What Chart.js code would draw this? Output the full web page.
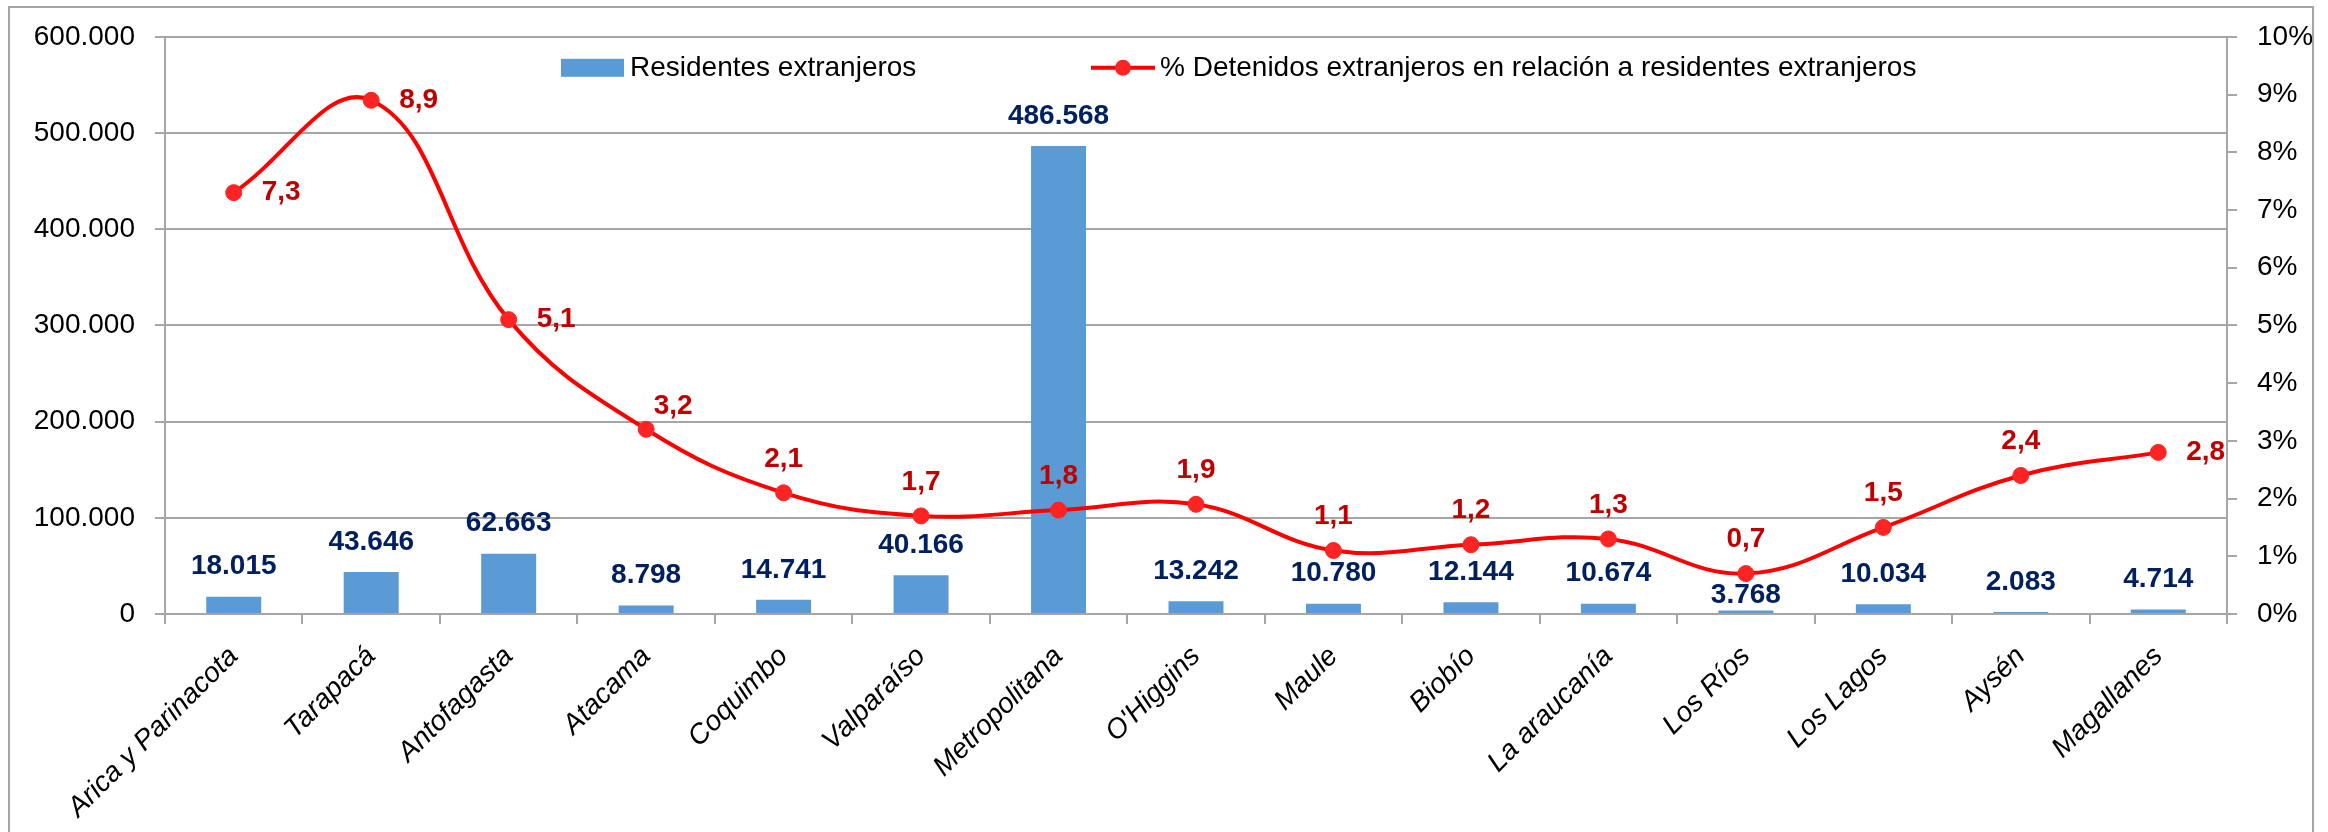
<!DOCTYPE html>
<html>
<head>
<meta charset="utf-8">
<script src="https://cdn.jsdelivr.net/npm/chart.js@4"></script>
<style>
  body { margin: 0; background: #fff; }
  #wrap { position: relative; width: 2328px; height: 832px; overflow: hidden; }
  #frame { position: absolute; left: 8px; top: 6px; width: 2302px; height: 900px; border: 2px solid #a6a6a6; pointer-events: none; }
  canvas { display: block; }
</style>
</head>
<body>
<div id="wrap">
  <canvas id="residentsChart" width="2328" height="832"></canvas>
  <div id="frame"></div>
</div>
<script>
const regions = ['Arica y Parinacota', 'Tarapacá', 'Antofagasta', 'Atacama', 'Coquimbo', 'Valparaíso',
    'Metropolitana', "O'Higgins", 'Maule', 'Biobío', 'La araucanía', 'Los Ríos', 'Los Lagos', 'Aysén', 'Magallanes'];
const residents = [18015, 43646, 62663, 8798, 14741, 40166, 486568, 13242, 10780, 12144, 10674, 3768, 10034, 2083, 4714];
const detainedPct = [7.3, 8.9, 5.1, 3.2, 2.1, 1.7, 1.8, 1.9, 1.1, 1.2, 1.3, 0.7, 1.5, 2.4, 2.8];
const residentsAxis = { min: 0, max: 600000, step: 100000 };
const pctAxis = { min: 0, max: 10, step: 1 };

const barLabel = 'Residentes extranjeros';
const lineLabel = '% Detenidos extranjeros en relación a residentes extranjeros';

const fontFamily = '"Liberation Sans", Arial, sans-serif';
const gridColor = '#a6a6a6';
const barColor = '#5b9bd5';
const lineColor = '#ff0000';
const pointColor = '#ff2424';

Chart.defaults.font.family = fontFamily;
Chart.defaults.color = '#000';

// 600000 -> "600.000"
function thousands(v) {
    return String(v).replace(/\B(?=(\d{3})+(?!\d))/g, '.');
}

// labels beside the point instead of above it
function labelBeside(i) {
    return i <= 2 || i === detainedPct.length - 1;
}

const valueLabels = {
    id: 'valueLabels',
    afterDatasetsDraw(chart) {
        const ctx = chart.ctx;
        const bars = chart.getDatasetMeta(0).data;
        const points = chart.getDatasetMeta(1).data;
        ctx.save();
        ctx.font = 'bold 28px ' + fontFamily;
        ctx.textBaseline = 'middle';

        ctx.textAlign = 'center';
        ctx.fillStyle = '#002060';
        bars.forEach((bar, i) => {
            let y = bar.y - 30;
            if (Math.abs(y - points[i].y) < 20) y = points[i].y + 22;
            ctx.fillText(thousands(residents[i]), bar.x, y);
        });

        ctx.fillStyle = '#c00000';
        points.forEach((pt, i) => {
            const text = detainedPct[i].toFixed(1).replace('.', ',');
            if (labelBeside(i)) {
                ctx.textAlign = 'left';
                ctx.fillText(text, pt.x + 28, pt.y);
            } else if (i === 3) {
                ctx.textAlign = 'center';
                ctx.fillText(text, pt.x + 27, pt.y - 23);
            } else {
                ctx.textAlign = 'center';
                ctx.fillText(text, pt.x, pt.y - 34);
            }
        });
        ctx.restore();
    }
};

// Excel-style legend sitting inside the plot area
const insideLegend = {
    id: 'insideLegend',
    afterDraw(chart) {
        const { ctx, chartArea } = chart;
        const y = chartArea.top + 31;
        ctx.save();
        ctx.font = '28px ' + fontFamily;
        ctx.textBaseline = 'middle';
        ctx.textAlign = 'left';

        let x = chartArea.left + 396;
        ctx.fillStyle = barColor;
        ctx.fillRect(x, y - 9, 63, 18);
        ctx.fillStyle = '#000';
        ctx.fillText(chart.data.datasets[0].label, x + 69, y);

        x = chartArea.left + 926;
        ctx.strokeStyle = lineColor;
        ctx.lineWidth = 4;
        ctx.beginPath();
        ctx.moveTo(x, y);
        ctx.lineTo(x + 64, y);
        ctx.stroke();
        ctx.fillStyle = pointColor;
        ctx.beginPath();
        ctx.arc(x + 32, y, 8, 0, Math.PI * 2);
        ctx.fill();
        ctx.fillStyle = '#000';
        ctx.fillText(chart.data.datasets[1].label, x + 69, y);
        ctx.restore();
    }
};

new Chart(document.getElementById('residentsChart'), {
    type: 'bar',
    data: {
        labels: regions,
        datasets: [{
            type: 'bar',
            label: barLabel,
            data: residents,
            yAxisID: 'y',
            backgroundColor: barColor,
            categoryPercentage: 1,
            barPercentage: 0.4,
            order: 1
        }, {
            type: 'line',
            label: lineLabel,
            data: detainedPct,
            yAxisID: 'y1',
            borderColor: lineColor,
            borderWidth: 4,
            tension: 0.4,
            pointRadius: 8,
            pointBackgroundColor: pointColor,
            pointBorderColor: pointColor,
            pointBorderWidth: 1,
            order: 0
        }]
    },
    options: {
        responsive: false,
        animation: false,
        devicePixelRatio: 1,
        layout: { padding: { top: 5, left: 0, right: 0, bottom: 0 } },
        plugins: {
            legend: { display: false },
            tooltip: { enabled: false }
        },
        scales: {
            x: {
                grid: { drawOnChartArea: false, color: gridColor, lineWidth: 2, tickLength: 10 },
                border: { color: gridColor, width: 2 },
                ticks: {
                    autoSkip: false,
                    minRotation: 45,
                    maxRotation: 45,
                    padding: 16,
                    color: '#000',
                    font: { size: 28, style: 'italic' }
                },
                afterFit(scale) { scale.height = 218; }
            },
            y: {
                position: 'left',
                min: residentsAxis.min,
                max: residentsAxis.max,
                ticks: {
                    stepSize: residentsAxis.step,
                    padding: 20,
                    color: '#000',
                    font: { size: 28 },
                    callback: v => thousands(v)
                },
                grid: { color: gridColor, lineWidth: 2, tickLength: 10 },
                border: { color: gridColor, width: 2 },
                afterFit(scale) { scale.width = 165; }
            },
            y1: {
                position: 'right',
                min: pctAxis.min,
                max: pctAxis.max,
                ticks: {
                    stepSize: pctAxis.step,
                    padding: 20,
                    color: '#000',
                    font: { size: 28 },
                    callback: v => v + '%'
                },
                grid: { drawOnChartArea: false, color: gridColor, lineWidth: 2, tickLength: 10 },
                border: { color: gridColor, width: 2 },
                afterFit(scale) { scale.width = 101; }
            }
        }
    },
    plugins: [valueLabels, insideLegend]
});
</script>
</body>
</html>
